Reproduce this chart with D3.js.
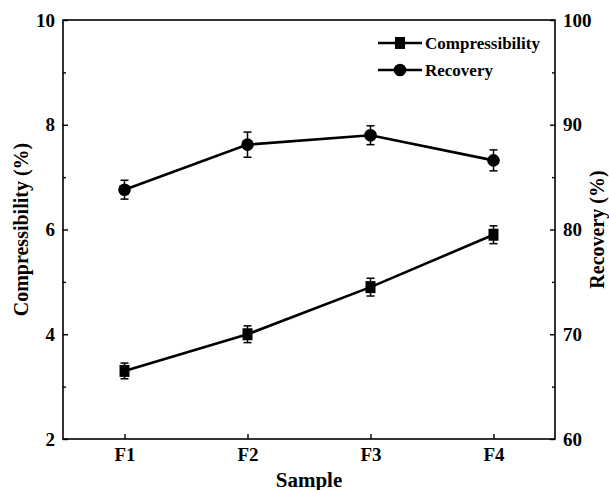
<!DOCTYPE html>
<html>
<head>
<meta charset="utf-8">
<script src="https://cdn.jsdelivr.net/npm/d3@7"></script>
<style>
  body { margin: 0; background: #fff; }
  svg text { font-family: "Times New Roman", "Liberation Serif", serif; font-weight: bold; fill: #000; }
</style>
</head>
<body>
<svg id="chart" width="609" height="490"></svg>
<script>
const samples = ["F1", "F2", "F3", "F4"]
const compressibility = [3.3, 4.0, 4.9, 5.9]
const compressibilityErr = [0.15, 0.16, 0.17, 0.17]
const recovery = [83.8, 88.1, 89.0, 86.6]
const recoveryErr = [0.9, 1.2, 0.9, 1.0]
const leftTicks = [2, 4, 6, 8, 10]
const leftMinor = [3, 5, 7, 9]
const rightTicks = [60, 70, 80, 90, 100]
const rightMinor = [65, 75, 85, 95]

const svg = d3.select("#chart")
const plotLeft = 63, plotRight = 555, plotTop = 20, plotBottom = 439

const x = d3.scalePoint().domain(samples).range([plotLeft, plotRight]).padding(0.5)
const yL = d3.scaleLinear().domain([2, 10]).range([plotBottom, plotTop])
const yR = d3.scaleLinear().domain([60, 100]).range([plotBottom, plotTop])

// frame
svg.append("rect")
    .attr("x", plotLeft).attr("y", plotTop)
    .attr("width", plotRight - plotLeft).attr("height", plotBottom - plotTop)
    .attr("fill", "none").attr("stroke", "#000").attr("stroke-width", 1.6)

function styleAxis(g) {
    g.select(".domain").remove()
    g.selectAll(".tick line").attr("stroke", "#000").attr("stroke-width", 1.4)
    g.selectAll(".tick text").style("font-size", "19px")
}

// left axis
svg.append("g").attr("transform", `translate(${plotLeft},0)`)
    .call(d3.axisLeft(yL).tickValues(leftTicks).tickSize(-5).tickPadding(8))
    .call(styleAxis)
svg.append("g").attr("transform", `translate(${plotLeft},0)`)
    .call(d3.axisLeft(yL).tickValues(leftMinor).tickSize(-3).tickFormat(""))
    .call(styleAxis)

// right axis
svg.append("g").attr("transform", `translate(${plotRight},0)`)
    .call(d3.axisRight(yR).tickValues(rightTicks).tickSize(-5).tickPadding(8))
    .call(styleAxis)
svg.append("g").attr("transform", `translate(${plotRight},0)`)
    .call(d3.axisRight(yR).tickValues(rightMinor).tickSize(-3).tickFormat(""))
    .call(styleAxis)

// bottom axis
svg.append("g").attr("transform", `translate(0,${plotBottom})`)
    .call(d3.axisBottom(x).tickSize(-5).tickPadding(9))
    .call(styleAxis)

// axis titles
svg.append("text").attr("x", (plotLeft + plotRight) / 2).attr("y", 487)
    .attr("text-anchor", "middle").style("font-size", "21px").text("Sample")
svg.append("text").attr("transform", `translate(28,${(plotTop + plotBottom) / 2}) rotate(-90)`)
    .attr("text-anchor", "middle").style("font-size", "20px").text("Compressibility (%)")
svg.append("text").attr("transform", `translate(590,${(plotTop + plotBottom) / 2}) rotate(-90)`)
    .attr("text-anchor", "middle").attr("dy", "0.7em").style("font-size", "20px").text("Recovery (%)")

function drawSeries(vals, errs, y, marker) {
    const pts = samples.map((s, i) => ({ s: s, v: vals[i], e: errs[i] }))
    svg.append("path").datum(pts)
        .attr("fill", "none").attr("stroke", "#000").attr("stroke-width", 2.6)
        .attr("d", d3.line().x(d => x(d.s)).y(d => y(d.v)))
    const eb = svg.append("g").attr("stroke", "#000").attr("stroke-width", 1.5)
    pts.forEach(d => {
        const cx = x(d.s), y1 = y(d.v + d.e), y2 = y(d.v - d.e)
        eb.append("line").attr("x1", cx).attr("x2", cx).attr("y1", y1).attr("y2", y2)
        eb.append("line").attr("x1", cx - 4).attr("x2", cx + 4).attr("y1", y1).attr("y2", y1)
        eb.append("line").attr("x1", cx - 4).attr("x2", cx + 4).attr("y1", y2).attr("y2", y2)
    })
    pts.forEach(d => marker(svg, x(d.s), y(d.v)))
}

function square(g, cx, cy) {
    g.append("rect").attr("x", cx - 5).attr("y", cy - 6).attr("width", 10).attr("height", 12).attr("fill", "#000")
}
function circle(g, cx, cy) {
    g.append("circle").attr("cx", cx).attr("cy", cy).attr("r", 6.3).attr("fill", "#000")
}

drawSeries(compressibility, compressibilityErr, yL, square)
drawSeries(recovery, recoveryErr, yR, circle)

// legend
const legend = [
    { name: "Compressibility", marker: square, y: 43 },
    { name: "Recovery", marker: circle, y: 70 }
]
legend.forEach(l => {
    svg.append("line").attr("x1", 378).attr("x2", 422).attr("y1", l.y).attr("y2", l.y)
        .attr("stroke", "#000").attr("stroke-width", 2.6)
    l.marker(svg, 400, l.y)
    svg.append("text").attr("x", 425).attr("y", l.y).attr("dy", "0.35em")
        .style("font-size", "17px").text(l.name)
})
</script>
</body>
</html>
